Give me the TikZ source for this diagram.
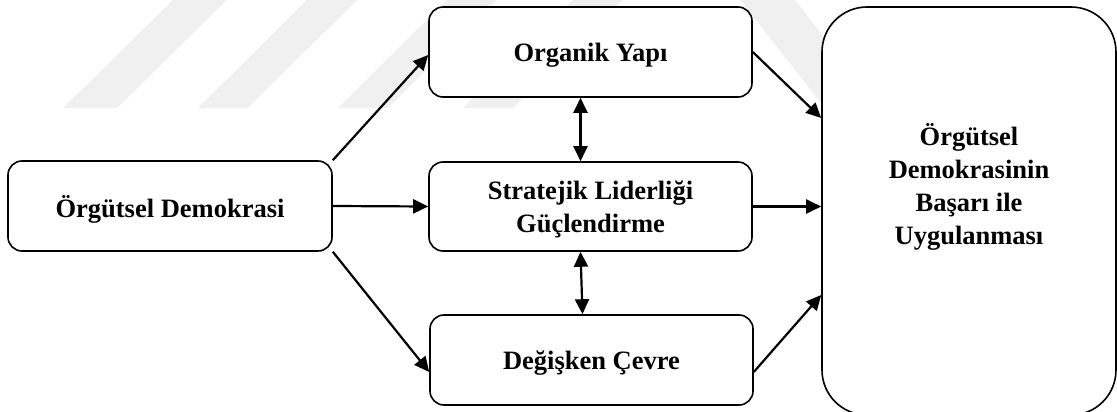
\documentclass[tikz,border=0pt]{standalone}
\usepackage{fontspec}
\setmainfont{Liberation Serif}
\usetikzlibrary{arrows.meta}
\begin{document}
\begin{tikzpicture}[x=1pt,y=-1pt,
  box/.style={draw, line width=1.6pt, rounded corners=14pt, fill=white,
    inner sep=0pt, text depth=0pt, align=center,
    font=\bfseries\fontsize{26.5}{33}\selectfont},
  label/.style={align=center, inner sep=0pt, font=\bfseries\fontsize{26.5}{33}\selectfont},
  link/.style={line width=2.2pt, -{Triangle[length=15pt,width=14pt]}},
  twoway/.style={line width=2.2pt,
    {Triangle[length=15pt,width=14pt]}-{Triangle[length=15pt,width=14pt]}},
  stripe/.style={fill=black!6}]
\useasboundingbox (0,0) rectangle (1117,412);
\clip (0,0) rectangle (1117,412);

% faint background stripes
\fill[stripe] (63,108) -- (117,108) -- (227,0) -- (173,0) -- cycle;
\fill[stripe] (198,108) -- (248,108) -- (357,0) -- (307,0) -- cycle;
\fill[stripe] (338,108) -- (388,108) -- (497,0) -- (447,0) -- cycle;
\fill[stripe] (463,108) -- (513,108) -- (623,0) -- (573,0) -- cycle;
\fill[stripe] (740,0) -- (795,0) -- (880,108) -- (825,108) -- cycle;

% boxes
\node[box, minimum width=324pt, minimum height=90pt] (demo) at (170,206) {Örgütsel Demokrasi};
\node[box, minimum width=323pt, minimum height=90pt] (org) at (590.5,52) {Organik Yapı};
\node[box, minimum width=323pt, minimum height=89pt] (str) at (590.5,206.5) {Stratejik Liderliği\\Güçlendirme};
\node[box, minimum width=323pt, minimum height=90pt] (deg) at (591.5,360) {Değişken Çevre};
\node[box, rounded corners=45pt, minimum width=294pt, minimum height=408pt] (big) at (969,211) {};
\node[label] (bigtext) at (969,187) {Örgütsel\\Demokrasinin\\Başarı ile\\Uygulanması};

% connectors
\draw[link] (demo.north east) -- ([yshift=-3pt]org.west);
\draw[link] (demo.east) -- (str.west);
\draw[link] (demo.south east) -- ([yshift=-12pt]deg.west);
\draw[link] (org.east) -- ([yshift=93pt]big.west);
\draw[link] (str.east) -- (str.east -| big.west);
\draw[link] ([yshift=-12pt]deg.east) -- ([yshift=-84pt]big.west);
\draw[twoway] ([xshift=-10pt]org.south) -- ([xshift=-10pt]str.north);
\draw[twoway] ([xshift=-10pt]str.south) -- ([xshift=-9pt]deg.north);
\end{tikzpicture}
\end{document}
